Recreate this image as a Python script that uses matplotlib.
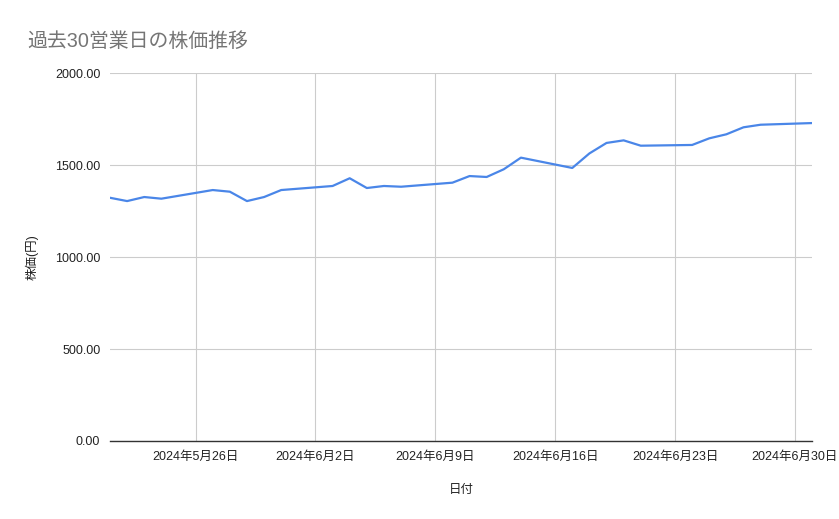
import matplotlib
matplotlib.use('Agg')
import matplotlib.pyplot as plt
import pandas as pd

plt.rcParams['font.family'] = ['Liberation Sans', 'Noto Sans CJK JP', 'DejaVu Sans']

# 過去30営業日
dates = ['2024-05-21', '2024-05-22', '2024-05-23', '2024-05-24',
         '2024-05-27', '2024-05-28', '2024-05-29', '2024-05-30', '2024-05-31',
         '2024-06-03', '2024-06-04', '2024-06-05', '2024-06-06', '2024-06-07',
         '2024-06-10', '2024-06-11', '2024-06-12', '2024-06-13', '2024-06-14',
         '2024-06-17', '2024-06-18', '2024-06-19', '2024-06-20', '2024-06-21',
         '2024-06-24', '2024-06-25', '2024-06-26', '2024-06-27', '2024-06-28',
         '2024-07-01']
prices = [1322, 1304, 1326, 1317,
          1364, 1355, 1304, 1326, 1364,
          1386, 1428, 1375, 1386, 1382,
          1404, 1440, 1435, 1477, 1540,
          1484, 1563, 1620, 1634, 1605,
          1609, 1645, 1667, 1705, 1719,
          1728]
tick_dates = ['2024-05-26', '2024-06-02', '2024-06-09', '2024-06-16', '2024-06-23', '2024-06-30']

x = pd.to_datetime(dates)
ticks = pd.to_datetime(tick_dates)

fig = plt.figure(figsize=(8.39, 5.19), dpi=100)
ax = fig.add_axes([0.1311, 0.1503, 0.8367, 0.709])

ax.plot(x, prices, color='#4a86e8', linewidth=1.6)

ax.set_ylim(0, 2000)
ax.set_yticks([0, 500, 1000, 1500, 2000])
ax.set_yticklabels([f'{v:.2f}' for v in [0, 500, 1000, 1500, 2000]])
ax.set_xlim(x[0], x[-1])
ax.set_xticks(ticks)
ax.set_xticklabels([f'{d.year}年{d.month}月{d.day}日' for d in ticks])

ax.grid(True, color='#cccccc', linewidth=0.8)
ax.set_axisbelow(True)
for s in ['top', 'right', 'left']:
    ax.spines[s].set_visible(False)
ax.spines['bottom'].set_color('#333333')
ax.spines['bottom'].set_linewidth(1.0)
ax.tick_params(axis='both', length=0, labelsize=9, colors='#222222')
ax.tick_params(axis='y', pad=7)
ax.tick_params(axis='x', pad=7)

ax.set_xlabel('日付', fontsize=9, color='#222222', labelpad=15)
ax.set_ylabel('株価(円)', fontsize=9, color='#222222', labelpad=12)

fig.text(0.032, 0.921, '過去30営業日の株価推移', fontsize=14.3, color='#757575',
         ha='left', va='center')

fig.savefig('out.png', dpi=100)
